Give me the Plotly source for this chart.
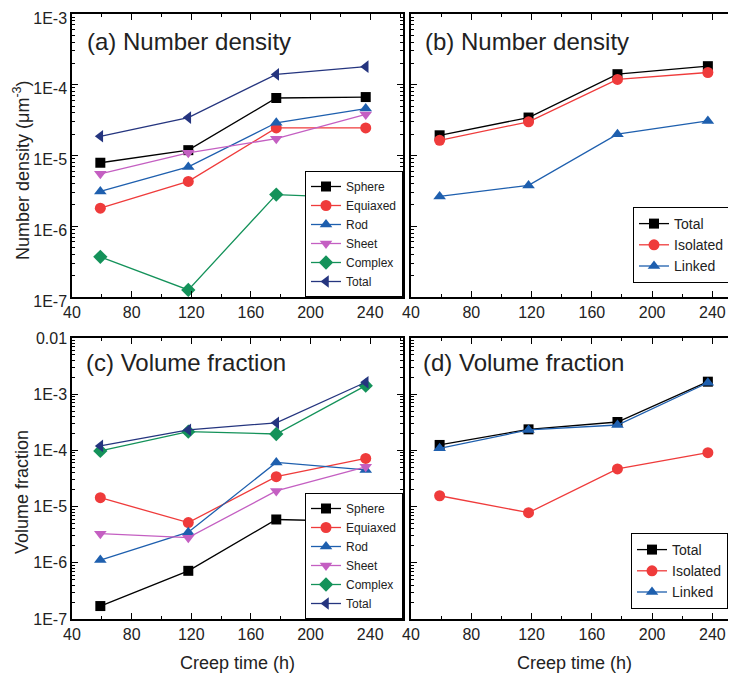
import plotly.graph_objects as go

# creep time (h)
creep_time = [59, 118, 177, 237]

# (a) number density by morphology (um^-3)
nd_sphere = [7.9e-6, 1.19e-5, 6.5e-5, 6.7e-5]
nd_equiaxed = [1.8e-6, 4.3e-6, 2.45e-5, 2.45e-5]
nd_rod = [3.1e-6, 6.9e-6, 2.9e-5, 4.6e-5]
nd_sheet = [5.5e-6, 1.09e-5, 1.73e-5, 3.8e-5]
nd_complex = [3.7e-7, 1.26e-7, 2.8e-6, 2.5e-6]
nd_total = [1.87e-5, 3.44e-5, 1.4e-4, 1.8e-4]

# (b) number density, isolated vs linked
nd_b_total = [1.93e-5, 3.44e-5, 1.41e-4, 1.83e-4]
nd_b_isolated = [1.64e-5, 2.99e-5, 1.19e-4, 1.49e-4]
nd_b_linked = [2.64e-6, 3.78e-6, 2.0e-5, 3.08e-5]

# (c) volume fraction by morphology
vf_sphere = [1.7e-7, 7.2e-7, 5.9e-6, 5.4e-6]
vf_equiaxed = [1.44e-5, 5.2e-6, 3.4e-5, 7.2e-5]
vf_rod = [1.12e-6, 3.5e-6, 6.1e-5, 4.5e-5]
vf_sheet = [3.3e-6, 2.8e-6, 1.9e-5, 5.1e-5]
vf_complex = [9.8e-5, 2.15e-4, 1.96e-4, 1.42e-3]
vf_total = [1.2e-4, 2.31e-4, 3.1e-4, 1.63e-3]

# (d) volume fraction, isolated vs linked
vf_d_total = [1.25e-4, 2.37e-4, 3.2e-4, 1.67e-3]
vf_d_isolated = [1.56e-5, 7.8e-6, 4.67e-5, 9.1e-5]
vf_d_linked = [1.09e-4, 2.31e-4, 2.83e-4, 1.6e-3]

morph_names = ['Sphere', 'Equiaxed', 'Rod', 'Sheet', 'Complex', 'Total']
morph_symbols = ['square', 'circle', 'triangle-up', 'triangle-down', 'diamond', 'triangle-left']
morph_colors = ['#000000', '#ef3b3b', '#1e5fae', '#c45fc2', '#14925a', '#25357f']

link_names = ['Total', 'Isolated', 'Linked']
link_symbols = ['square', 'circle', 'triangle-up']
link_colors = ['#000000', '#ef3b3b', '#1e5fae']

W, H = 736, 674
OFF = 8  # page body margin
FONT = 'Liberation Sans, Arial, sans-serif'
TXT = '#222222'

fig = go.Figure()


def add_set(series, names, symbols, colors, ax, legend):
    for ys, n, s, c in zip(series, names, symbols, colors):
        fig.add_trace(go.Scatter(
            x = creep_time, y = ys, name = n,
            mode = 'lines+markers',
            line = dict(color = c, width = 1.3),
            marker = dict(symbol = s, size = 11 if s != 'square' else 10, color = c),
            xaxis = 'x' + ax, yaxis = 'y' + ax,
            legend = legend
        ))


add_set([nd_sphere, nd_equiaxed, nd_rod, nd_sheet, nd_complex, nd_total],
        morph_names, morph_symbols, morph_colors, '', 'legend')
add_set([nd_b_total, nd_b_isolated, nd_b_linked],
        link_names, link_symbols, link_colors, '2', 'legend2')
add_set([vf_sphere, vf_equiaxed, vf_rod, vf_sheet, vf_complex, vf_total],
        morph_names, morph_symbols, morph_colors, '3', 'legend3')
add_set([vf_d_total, vf_d_isolated, vf_d_linked],
        link_names, link_symbols, link_colors, '4', 'legend4')


# page pixel positions -> paper fractions
def px_x(p):
    return (p - OFF) / W

def px_y(p):
    return 1 - (p - OFF) / H

left_dom = [px_x(72), px_x(403)]
right_dom = [px_x(411), px_x(735)]
top_dom = [px_y(297), px_y(14)]
bot_dom = [px_y(619), px_y(338)]

common_x = dict(
    showline = True, linecolor = 'black', linewidth = 1.5, mirror = 'allticks',
    ticks = 'inside', ticklen = 6, tickcolor = 'black', tick0 = 40, dtick = 40,
    minor = dict(ticks = 'inside', ticklen = 3, dtick = 20, tickcolor = 'black'),
    showgrid = False, zeroline = False, automargin = False, ticklabeloverflow = 'allow',
    tickfont = dict(size = 16, color = TXT, family = FONT)
)
common_y = dict(
    type = 'log', showline = True, linecolor = 'black', linewidth = 1.5, mirror = 'allticks',
    ticks = 'inside', ticklen = 6, tickcolor = 'black',
    minor = dict(ticks = 'inside', ticklen = 3, dtick = 'D1', tickcolor = 'black'),
    showgrid = False, zeroline = False, automargin = False, ticklabeloverflow = 'allow',
    tickfont = dict(size = 16, color = TXT, family = FONT)
)

nd_ticks = [1e-7, 1e-6, 1e-5, 1e-4, 1e-3]
nd_text = ['1E-7', '1E-6', '1E-5', '1E-4', '1E-3']
vf_ticks = [1e-7, 1e-6, 1e-5, 1e-4, 1e-3, 1e-2]
vf_text = ['1E-7', '1E-6', '1E-5', '1E-4', '1E-3', '0.01']

fig.update_layout(
    xaxis = dict(common_x, domain = left_dom, anchor = 'y', range = [40, 262]),
    yaxis = dict(common_y, domain = top_dom, anchor = 'x', range = [-7, -3],
                 tickmode = 'array', tickvals = nd_ticks, ticktext = nd_text,
                 ticklabelshift = 4),
    xaxis2 = dict(common_x, domain = right_dom, anchor = 'y2', range = [40, 255]),
    yaxis2 = dict(common_y, domain = top_dom, anchor = 'x2', range = [-7, -3],
                  tickmode = 'array', tickvals = nd_ticks, showticklabels = False),
    xaxis3 = dict(common_x, domain = left_dom, anchor = 'y3', range = [40, 262]),
    yaxis3 = dict(common_y, domain = bot_dom, anchor = 'x3', range = [-7, -2],
                  tickmode = 'array', tickvals = vf_ticks, ticktext = vf_text),
    xaxis4 = dict(common_x, domain = right_dom, anchor = 'y4', range = [40, 255]),
    yaxis4 = dict(common_y, domain = bot_dom, anchor = 'x4', range = [-7, -2],
                  tickmode = 'array', tickvals = vf_ticks, showticklabels = False),
)

leg_small = dict(bgcolor = 'white', bordercolor = 'black', borderwidth = 1,
                 font = dict(size = 12, color = TXT, family = FONT),
                 xanchor = 'right', yanchor = 'bottom', tracegroupgap = 0, itemwidth = 30)
leg_big = dict(leg_small, font = dict(size = 14, color = TXT, family = FONT))

fig.update_layout(
    legend = dict(leg_small, x = px_x(403), y = px_y(297)),
    legend2 = dict(leg_big, x = px_x(730), y = px_y(283)),
    legend3 = dict(leg_small, x = px_x(403), y = px_y(619)),
    legend4 = dict(leg_big, x = px_x(728), y = px_y(609)),
)

# panel labels
labels = [('(a) Number density', 85, 42), ('(b) Number density', 423, 42),
          ('(c) Volume fraction', 84, 362), ('(d) Volume fraction', 421, 362)]
for t, lx, ly in labels:
    fig.add_annotation(text = t, xref = 'paper', yref = 'paper', x = px_x(lx), y = px_y(ly),
                       xanchor = 'left', yanchor = 'middle', showarrow = False,
                       font = dict(size = 24, color = TXT, family = FONT))

# axis titles
titles = [('Number density (μm<sup>-3</sup>)', 22, 170, -90),
          ('Volume fraction', 22, 492, -90),
          ('Creep time (h)', 237, 663, 0),
          ('Creep time (h)', 574, 663, 0)]
for t, lx, ly, ang in titles:
    fig.add_annotation(text = t, xref = 'paper', yref = 'paper', x = px_x(lx), y = px_y(ly),
                       xanchor = 'center', yanchor = 'middle', showarrow = False, textangle = ang,
                       font = dict(size = 18, color = TXT, family = FONT))

fig.update_layout(
    width = W, height = H,
    margin = dict(l = 0, r = 0, t = 0, b = 0, autoexpand = False),
    paper_bgcolor = 'white', plot_bgcolor = 'white',
    font = dict(family = FONT, color = TXT),
)

fig.write_html('out.html')
